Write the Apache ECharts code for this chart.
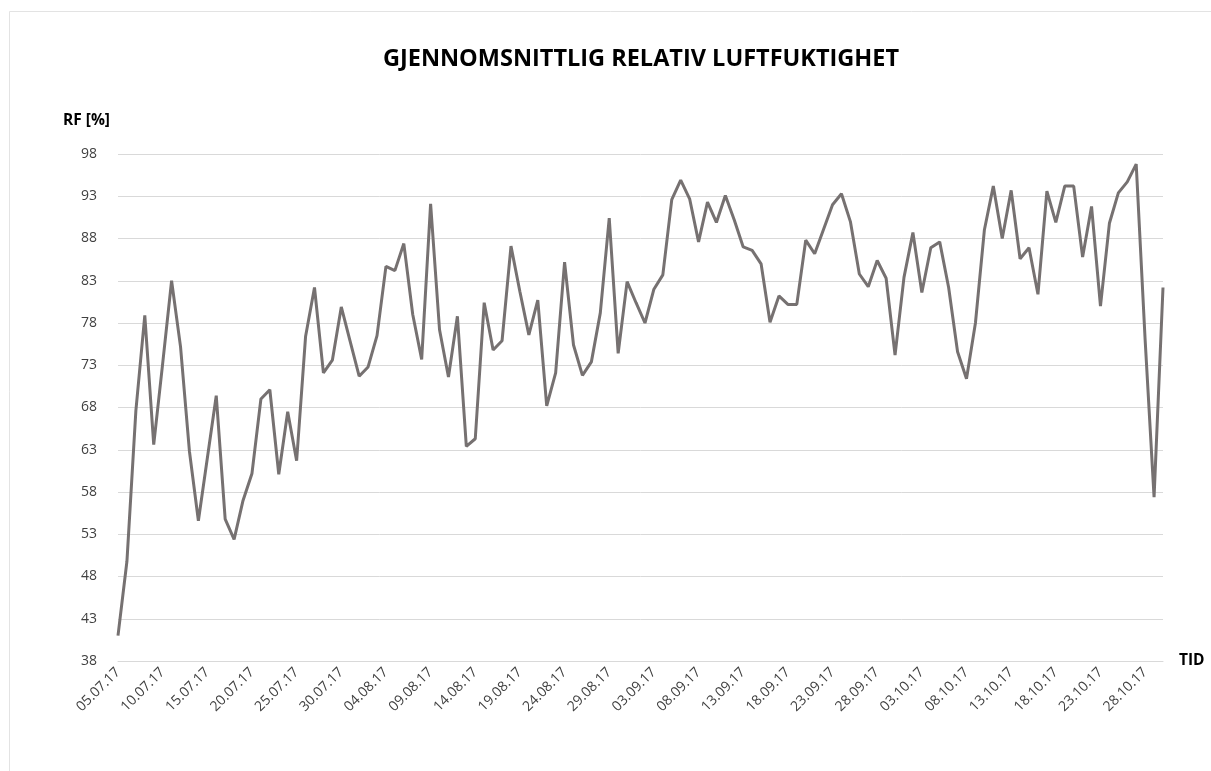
<!DOCTYPE html>
<html>
<head>
<meta charset="utf-8">
<title>Gjennomsnittlig relativ luftfuktighet</title>
<script src="https://cdn.jsdelivr.net/npm/echarts@6/dist/echarts.min.js"></script>
<style>
    html, body { margin: 0; padding: 0; background: #ffffff; }
    #chart { width: 1211px; height: 771px; }
</style>
</head>
<body>
<div id="chart"></div>
<script>
// Datoer (dag.måned.år)
const datesJul = ['05.07.17','06.07.17','07.07.17','08.07.17','09.07.17','10.07.17','11.07.17','12.07.17','13.07.17','14.07.17',
    '15.07.17','16.07.17','17.07.17','18.07.17','19.07.17','20.07.17','21.07.17','22.07.17','23.07.17','24.07.17',
    '25.07.17','26.07.17','27.07.17','28.07.17','29.07.17','30.07.17','31.07.17'];
const datesAug = ['01.08.17','02.08.17','03.08.17','04.08.17','05.08.17','06.08.17','07.08.17','08.08.17','09.08.17','10.08.17',
    '11.08.17','12.08.17','13.08.17','14.08.17','15.08.17','16.08.17','17.08.17','18.08.17','19.08.17','20.08.17',
    '21.08.17','22.08.17','23.08.17','24.08.17','25.08.17','26.08.17','27.08.17','28.08.17','29.08.17','30.08.17','31.08.17'];
const datesSep = ['01.09.17','02.09.17','03.09.17','04.09.17','05.09.17','06.09.17','07.09.17','08.09.17','09.09.17','10.09.17',
    '11.09.17','12.09.17','13.09.17','14.09.17','15.09.17','16.09.17','17.09.17','18.09.17','19.09.17','20.09.17',
    '21.09.17','22.09.17','23.09.17','24.09.17','25.09.17','26.09.17','27.09.17','28.09.17','29.09.17','30.09.17'];
const datesOct = ['01.10.17','02.10.17','03.10.17','04.10.17','05.10.17','06.10.17','07.10.17','08.10.17','09.10.17','10.10.17',
    '11.10.17','12.10.17','13.10.17','14.10.17','15.10.17','16.10.17','17.10.17','18.10.17','19.10.17','20.10.17',
    '21.10.17','22.10.17','23.10.17','24.10.17','25.10.17','26.10.17','27.10.17','28.10.17','29.10.17','30.10.17'];

// Relativ fuktighet [%] per måned
const rfJul = [41.0, 49.8, 67.6, 78.9, 63.6, 73.2, 83.0, 75.2, 62.8, 54.6,
    62.0, 69.4, 54.8, 52.4, 57.0, 60.2, 69.0, 70.1, 60.1, 67.5,
    61.7, 76.4, 82.2, 72.1, 73.6, 79.9, 75.8];
const rfAug = [71.7, 72.8, 76.5, 84.7, 84.2, 87.4, 79.0, 73.7, 92.1, 77.2,
    71.6, 78.8, 63.4, 64.3, 80.4, 74.8, 75.9, 87.1, 81.7, 76.6,
    80.7, 68.2, 72.1, 85.2, 75.4, 71.8, 73.4, 79.2, 90.4, 74.4, 82.9];
const rfSep = [80.4, 78.0, 82.0, 83.7, 92.6, 94.9, 92.7, 87.6, 92.3, 89.9,
    93.1, 90.2, 87.0, 86.6, 85.0, 78.1, 81.2, 80.2, 80.2, 87.8,
    86.2, 89.1, 92.0, 93.3, 90.0, 83.8, 82.3, 85.4, 83.3, 74.2];
const rfOct = [83.4, 88.7, 81.6, 86.9, 87.6, 82.2, 74.6, 71.4, 78.0, 89.0,
    94.2, 88.0, 93.7, 85.6, 86.9, 81.4, 93.6, 89.9, 94.2, 94.2,
    85.8, 91.8, 80.0, 89.8, 93.4, 94.7, 96.8, 76.0, 57.4, 82.2];

// Verdiaksens merker
const yTicks = [38, 43, 48, 53, 58, 63, 68, 73, 78, 83, 88, 93, 98];

const dates = datesJul.concat(datesAug, datesSep, datesOct);
const rf = rfJul.concat(rfAug, rfSep, rfOct);

const chart = echarts.init(document.getElementById('chart'));

const option = {
    animation: false,
    backgroundColor: '#ffffff',
    textStyle: { fontFamily: 'Open Sans' },
    graphic: [{
        type: 'rect',
        shape: { x: 9.5, y: 11.5, width: 1215, height: 775 },
        style: { fill: 'none', stroke: '#e3e3e3', lineWidth: 1 },
        silent: true
    }],
    title: {
        text: 'GJENNOMSNITTLIG RELATIV LUFTFUKTIGHET',
        left: 636,
        top: 42,
        textAlign: 'center',
        textStyle: {
            fontFamily: 'Open Sans',
            fontSize: 23.5,
            fontWeight: 'bold',
            color: '#000000'
        }
    },
    grid: {
        left: 118,
        right: 48,
        top: 154,
        bottom: 110
    },
    xAxis: {
        type: 'category',
        data: dates,
        boundaryGap: false,
        name: 'TID',
        nameLocation: 'end',
        nameGap: 16,
        nameTextStyle: {
            fontFamily: 'Open Sans',
            fontSize: 15.5,
            fontWeight: 'bold',
            color: '#000000',
            padding: [14, 0, 0, 0]
        },
        axisLine: { lineStyle: { color: '#d9d9d9', width: 1 } },
        axisTick: { show: false },
        splitLine: { show: false },
        axisLabel: {
            interval: 4,
            rotate: 45,
            margin: 9,
            fontSize: 14,
            color: '#404040'
        }
    },
    yAxis: {
        type: 'value',
        min: 38,
        max: 98,
        name: 'RF [%]',
        nameLocation: 'end',
        nameGap: 25,
        nameTextStyle: {
            fontFamily: 'Open Sans',
            fontSize: 15.5,
            fontWeight: 'bold',
            color: '#000000',
            align: 'right',
            padding: [0, 8, 0, 0]
        },
        axisLine: { show: false },
        axisTick: { show: false, customValues: yTicks },
        splitLine: { show: true, lineStyle: { color: '#d9d9d9', width: 1 } },
        axisLabel: {
            customValues: yTicks,
            margin: 21,
            fontSize: 14,
            color: '#404040'
        }
    },
    series: [{
        name: 'RF',
        type: 'line',
        data: rf,
        symbol: 'none',
        lineStyle: { color: '#767171', width: 3 },
        itemStyle: { color: '#767171' }
    }]
};

chart.setOption(option);
</script>
</body>
</html>
